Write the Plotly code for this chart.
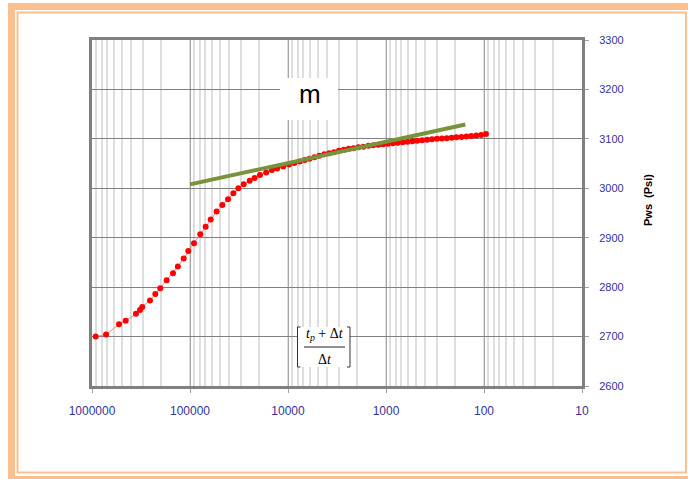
import plotly.graph_objects as go

# Horner time ratio (tp + dt) / dt and shut-in pressure
horner = [916000, 719000, 530000, 453000, 356000, 324000, 307000, 256000, 226000, 201000,
          173000, 149000, 133000, 116000, 104000, 91000, 78500, 69200, 61500, 53500,
          46800, 40900, 36100, 32100, 28300, 24600, 21900, 19300, 16700, 14600,
          12900, 11200, 9770, 8630, 7590, 6760, 6030, 5370, 4790, 4270,
          3800, 3390, 3020, 2690, 2400, 2140, 1910, 1700, 1510, 1350,
          1200, 1070, 955, 851, 759, 676, 603, 537, 479, 427,
          380, 339, 302, 269, 240, 214, 191, 170, 151, 135,
          120, 107, 95.5]
pws = [2700, 2704, 2725, 2732, 2746, 2754, 2760, 2773, 2786, 2798,
       2814, 2828, 2842, 2858, 2873, 2889, 2907, 2922, 2937, 2953,
       2966, 2978, 2990, 3000, 3008, 3015, 3021, 3027, 3032, 3037,
       3040, 3044, 3048, 3051, 3054, 3057, 3060, 3063, 3066, 3069,
       3071, 3073, 3076, 3078, 3080, 3081, 3083, 3084, 3086, 3087,
       3088, 3089, 3090, 3091, 3092, 3093, 3094, 3095, 3096, 3097,
       3098, 3099, 3100, 3100.5, 3101, 3102, 3103, 3104, 3105, 3106,
       3107, 3108, 3110]

# straight line fitted to the middle-time region (slope m)
fit_x = [100000, 155]
fit_y = [3008, 3129]

x_tickvals = [1000000, 100000, 10000, 1000, 100, 10]
x_ticktext = ["1000000", "100000", "10000", "1000", "100", "10"]
y_tickvals = [2600, 2700, 2800, 2900, 3000, 3100, 3200, 3300]

ORANGE = "#FAC090"
TICK_BLUE = "#333399"

fig = go.Figure()
fig.add_trace(go.Scatter(
    x=horner, y=pws, mode="lines+markers",
    line=dict(color="#ff8080", width=1),
    marker=dict(color="#ff0000", size=6, symbol="circle"),
    showlegend=False,
))
fig.add_trace(go.Scatter(
    x=fit_x, y=fit_y, mode="lines",
    line=dict(color="#77933C", width=4),
    showlegend=False,
))

shapes = [
    # orange page frame
    dict(type="rect", xref="paper", yref="paper", x0=-0.1714, x1=-0.1571, y0=-0.2688, y1=1.1069,
         fillcolor=ORANGE, line=dict(width=0), layer="below"),
    dict(type="rect", xref="paper", yref="paper", x0=-0.1714, x1=1.2163, y0=1.0867, y1=1.1069,
         fillcolor=ORANGE, line=dict(width=0), layer="below"),
    dict(type="rect", xref="paper", yref="paper", x0=-0.1714, x1=1.2163, y0=-0.2688, y1=-0.2601,
         fillcolor=ORANGE, line=dict(width=0), layer="below"),
    dict(type="rect", xref="paper", yref="paper", x0=-0.152, x1=1.2122, y0=-0.25, y1=1.0795,
         line=dict(color=ORANGE, width=2), layer="below"),
    # white box behind "m"
    dict(type="rect", xref="paper", yref="paper", x0=0.3837, x1=0.502, y0=0.7688, y1=0.8902,
         fillcolor="white", line=dict(width=0), layer="above"),
    # white box behind formula
    dict(type="rect", xref="paper", yref="paper", x0=0.4194, x1=0.5265, y0=0.0549, y1=0.1705,
         fillcolor="white", line=dict(width=0), layer="above"),
    # brackets
    dict(type="path", xref="paper", yref="paper",
         path="M 0.4255 0.1705 L 0.4194 0.1705 L 0.4194 0.0549 L 0.4255 0.0549",
         line=dict(color="#333333", width=1), layer="above"),
    dict(type="path", xref="paper", yref="paper",
         path="M 0.5204 0.1705 L 0.5265 0.1705 L 0.5265 0.0549 L 0.5204 0.0549",
         line=dict(color="#333333", width=1), layer="above"),
    # fraction bar
    dict(type="line", xref="paper", yref="paper", x0=0.4327, x1=0.5163, y0=0.1127, y1=0.1127,
         line=dict(color="#222222", width=1), layer="above"),
]

annotations = [
    dict(text="m", xref="paper", yref="paper", x=0.4449, y=0.845, showarrow=False,
         xanchor="center", yanchor="middle",
         font=dict(family="Liberation Sans, Arial", size=26, color="black")),
    dict(text="<i>t<sub>p</sub></i> + Δ<i>t</i>", xref="paper", yref="paper", x=0.4745, y=0.148,
         xanchor="center", yanchor="middle",
         showarrow=False, font=dict(family="Liberation Serif, Times New Roman", size=14, color="black")),
    dict(text="Δ<i>t</i>", xref="paper", yref="paper", x=0.4745, y=0.078,
         xanchor="center", yanchor="middle",
         showarrow=False, font=dict(family="Liberation Serif, Times New Roman", size=14, color="black")),
    dict(text="<b>Pws  (Psi)</b>", xref="paper", yref="paper", x=1.135, y=0.538, textangle=-90,
         xanchor="center", yanchor="middle",
         showarrow=False, font=dict(family="Liberation Sans, Arial", size=11, color="black")),
]

fig.update_layout(
    width=688, height=479,
    margin=dict(l=92, r=106, t=40, b=93),
    paper_bgcolor="white", plot_bgcolor="white",
    font=dict(family="Liberation Sans, Arial", color=TICK_BLUE),
    shapes=shapes, annotations=annotations,
)
fig.update_xaxes(
    type="log", range=[6, 1],
    tickmode="array", tickvals=x_tickvals, ticktext=x_ticktext,
    tickfont=dict(size=12, color=TICK_BLUE),
    ticks="outside", ticklen=4, tickcolor="#a0a0a0", ticklabelstandoff=8,
    showgrid=True, gridcolor="#a6a6a6", gridwidth=1,
    minor=dict(dtick="D1", showgrid=True, gridcolor="#dedede", gridwidth=2),
    showline=True, mirror=True, linecolor="#808080", linewidth=3,
    zeroline=False,
)
fig.update_yaxes(
    side="right", range=[2600, 3300],
    tickmode="array", tickvals=y_tickvals,
    tickfont=dict(size=11, color=TICK_BLUE),
    ticks="outside", ticklen=4, tickcolor="#a0a0a0", ticklabelstandoff=8,
    showgrid=True, gridcolor="#808080", gridwidth=1,
    showline=True, mirror=True, linecolor="#808080", linewidth=3,
    zeroline=False,
)

# the page body has a default 8px margin; drop it so the figure fills the window
fig.write_html("out.html", config={"displayModeBar": False},
               post_script="document.body.style.margin='0';")
